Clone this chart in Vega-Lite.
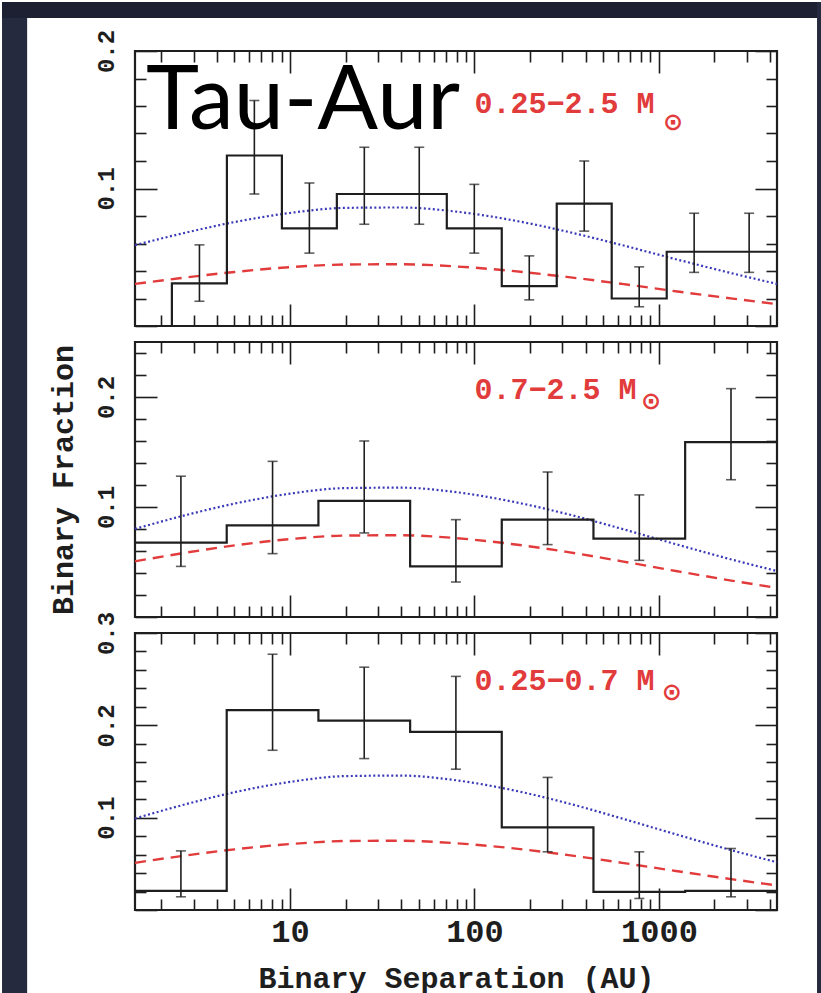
{
  "$schema": "https://vega.github.io/schema/vega-lite/v6.json",
  "padding": 0,
  "background": "white",
  "bounds": "flush",
  "spacing": 16,
  "config": {
    "font": "Liberation Mono",
    "view": {"stroke": "#1e1e1e", "strokeWidth": 2.2},
    "axis": {"zindex": 1, "domain": false, "grid": false, "tickColor": "#1e1e1e", "tickWidth": 1.6, "labelColor": "#1e1e1e", "titleColor": "#1e1e1e", "labelFont": "Liberation Mono", "titleFont": "Liberation Mono", "titleFontWeight": "bold", "labelFontWeight": "bold", "labelOverlap": false, "labelFlush": false}
  },
  "datasets": {
    "hist": [
      {"p": 1, "i": 0, "a": 2.29, "f": 0},
      {"p": 1, "i": 1, "a": 2.29, "f": 0.031},
      {"p": 1, "i": 2, "a": 4.55, "f": 0.124},
      {"p": 1, "i": 3, "a": 9.04, "f": 0.071},
      {"p": 1, "i": 4, "a": 17.95, "f": 0.096},
      {"p": 1, "i": 5, "a": 35.6, "f": 0.096},
      {"p": 1, "i": 6, "a": 70.8, "f": 0.071},
      {"p": 1, "i": 7, "a": 140.6, "f": 0.029},
      {"p": 1, "i": 8, "a": 279.3, "f": 0.089},
      {"p": 1, "i": 9, "a": 554.6, "f": 0.020},
      {"p": 1, "i": 10, "a": 1102, "f": 0.054},
      {"p": 1, "i": 11, "a": 2188, "f": 0.054},
      {"p": 1, "i": 12, "a": 4365, "f": 0.054},
      {"p": 2, "i": 0, "a": 1.445, "f": 0.0676},
      {"p": 2, "i": 1, "a": 4.54, "f": 0.0833},
      {"p": 2, "i": 2, "a": 14.26, "f": 0.1055},
      {"p": 2, "i": 3, "a": 44.8, "f": 0.046},
      {"p": 2, "i": 4, "a": 140.6, "f": 0.0885},
      {"p": 2, "i": 5, "a": 441.6, "f": 0.0712},
      {"p": 2, "i": 6, "a": 1387, "f": 0.159},
      {"p": 2, "i": 7, "a": 4365, "f": 0.159},
      {"p": 3, "i": 0, "a": 1.445, "f": 0.0208},
      {"p": 3, "i": 1, "a": 4.54, "f": 0.2165},
      {"p": 3, "i": 2, "a": 14.26, "f": 0.205},
      {"p": 3, "i": 3, "a": 44.8, "f": 0.193},
      {"p": 3, "i": 4, "a": 140.6, "f": 0.0894},
      {"p": 3, "i": 5, "a": 441.6, "f": 0.0197},
      {"p": 3, "i": 6, "a": 1387, "f": 0.0208},
      {"p": 3, "i": 7, "a": 4365, "f": 0.0208}
    ],
    "err": [
      {"p": 1, "a": 3.23, "lo": 0.018, "hi": 0.059},
      {"p": 1, "a": 6.41, "lo": 0.096, "hi": 0.164},
      {"p": 1, "a": 12.74, "lo": 0.053, "hi": 0.104},
      {"p": 1, "a": 25.29, "lo": 0.074, "hi": 0.130},
      {"p": 1, "a": 50.2, "lo": 0.074, "hi": 0.130},
      {"p": 1, "a": 99.8, "lo": 0.053, "hi": 0.103},
      {"p": 1, "a": 198.2, "lo": 0.019, "hi": 0.051},
      {"p": 1, "a": 393.6, "lo": 0.069, "hi": 0.120},
      {"p": 1, "a": 781.6, "lo": 0.014, "hi": 0.043},
      {"p": 1, "a": 1552, "lo": 0.039, "hi": 0.082},
      {"p": 1, "a": 3083, "lo": 0.039, "hi": 0.082},
      {"p": 2, "a": 2.563, "lo": 0.046, "hi": 0.128},
      {"p": 2, "a": 8.046, "lo": 0.0576, "hi": 0.1415},
      {"p": 2, "a": 25.26, "lo": 0.0764, "hi": 0.160},
      {"p": 2, "a": 79.33, "lo": 0.0318, "hi": 0.0885},
      {"p": 2, "a": 249.2, "lo": 0.0658, "hi": 0.1318},
      {"p": 2, "a": 782.6, "lo": 0.0515, "hi": 0.111},
      {"p": 2, "a": 2458, "lo": 0.1248, "hi": 0.2076},
      {"p": 3, "a": 2.563, "lo": 0.0143, "hi": 0.064},
      {"p": 3, "a": 8.046, "lo": 0.173, "hi": 0.277},
      {"p": 3, "a": 25.26, "lo": 0.164, "hi": 0.263},
      {"p": 3, "a": 79.33, "lo": 0.1525, "hi": 0.253},
      {"p": 3, "a": 249.2, "lo": 0.063, "hi": 0.1436},
      {"p": 3, "a": 782.6, "lo": 0.0125, "hi": 0.063},
      {"p": 3, "a": 2458, "lo": 0.0143, "hi": 0.0666}
    ],
    "model": [
      {"p": 1, "a": 1.445, "blue": 0.0588, "red": 0.0306},
      {"p": 1, "a": 2.512, "blue": 0.0668, "red": 0.0347},
      {"p": 1, "a": 5.012, "blue": 0.0756, "red": 0.0393},
      {"p": 1, "a": 10, "blue": 0.0822, "red": 0.0428},
      {"p": 1, "a": 19.95, "blue": 0.0859, "red": 0.0447},
      {"p": 1, "a": 39.81, "blue": 0.0862, "red": 0.0449},
      {"p": 1, "a": 79.43, "blue": 0.0832, "red": 0.0433},
      {"p": 1, "a": 158.5, "blue": 0.0771, "red": 0.0401},
      {"p": 1, "a": 316.2, "blue": 0.0687, "red": 0.0357},
      {"p": 1, "a": 631, "blue": 0.0588, "red": 0.0306},
      {"p": 1, "a": 1259, "blue": 0.0483, "red": 0.0251},
      {"p": 1, "a": 2512, "blue": 0.0382, "red": 0.0199},
      {"p": 1, "a": 4365, "blue": 0.0306, "red": 0.0159},
      {"p": 2, "a": 1.445, "blue": 0.0801, "red": 0.0506},
      {"p": 2, "a": 2.512, "blue": 0.0911, "red": 0.0575},
      {"p": 2, "a": 5.012, "blue": 0.1031, "red": 0.0651},
      {"p": 2, "a": 10, "blue": 0.1121, "red": 0.0708},
      {"p": 2, "a": 19.95, "blue": 0.1172, "red": 0.0740},
      {"p": 2, "a": 39.81, "blue": 0.1176, "red": 0.0743},
      {"p": 2, "a": 79.43, "blue": 0.1135, "red": 0.0717},
      {"p": 2, "a": 158.5, "blue": 0.1051, "red": 0.0664},
      {"p": 2, "a": 316.2, "blue": 0.0937, "red": 0.0592},
      {"p": 2, "a": 631, "blue": 0.0801, "red": 0.0506},
      {"p": 2, "a": 1259, "blue": 0.0658, "red": 0.0416},
      {"p": 2, "a": 2512, "blue": 0.0520, "red": 0.0329},
      {"p": 2, "a": 4365, "blue": 0.0418, "red": 0.0264},
      {"p": 3, "a": 1.445, "blue": 0.0991, "red": 0.0511},
      {"p": 3, "a": 2.512, "blue": 0.1127, "red": 0.0581},
      {"p": 3, "a": 5.012, "blue": 0.1276, "red": 0.0657},
      {"p": 3, "a": 10, "blue": 0.1387, "red": 0.0714},
      {"p": 3, "a": 19.95, "blue": 0.1450, "red": 0.0747},
      {"p": 3, "a": 39.81, "blue": 0.1456, "red": 0.0750},
      {"p": 3, "a": 79.43, "blue": 0.1405, "red": 0.0723},
      {"p": 3, "a": 158.5, "blue": 0.1301, "red": 0.0670},
      {"p": 3, "a": 316.2, "blue": 0.1159, "red": 0.0597},
      {"p": 3, "a": 631, "blue": 0.0991, "red": 0.0511},
      {"p": 3, "a": 1259, "blue": 0.0815, "red": 0.0420},
      {"p": 3, "a": 2512, "blue": 0.0644, "red": 0.0332},
      {"p": 3, "a": 4365, "blue": 0.0517, "red": 0.0266}
    ],
    "ann": [
      {"p": 1, "a": 100, "f": 0.155, "text": "0.25−2.5 M"},
      {"p": 2, "a": 100, "f": 0.198, "text": "0.7−2.5 M"},
      {"p": 3, "a": 100, "f": 0.238, "text": "0.25−0.7 M"}
    ],
    "sun": [
      {"p": 1, "a": 1191, "f": 0.148, "text": "⊙"},
      {"p": 2, "a": 906, "f": 0.1955, "text": "⊙"},
      {"p": 3, "a": 1175, "f": 0.2346, "text": "⊙"}
    ],
    "label": [
      {"a": 1.66, "f": 0.1436, "text": "Tau-Aur"}
    ]
  },
  "vconcat": [
    {
      "width": 642, "height": 275,
      "resolve": {"axis": {"x": "independent", "y": "independent"}},
      "layer": [
        {
          "data": {"name": "model"}, "transform": [{"filter": "datum.p == 1"}],
          "mark": {"type": "line", "color": "#3a3ab8", "strokeWidth": 2.2, "strokeDash": [2, 2.5], "interpolate": "monotone"},
          "encoding": {
            "x": {"field": "a", "type": "quantitative", "scale": {"type": "log", "domain": [1.445, 4365], "nice": false}, "axis": {"orient": "bottom", "values": [2,3,4,5,6,7,8,9,20,30,40,50,60,70,80,90,200,300,400,500,600,700,800,900,2000,3000,4000], "tickSize": -11, "labels": false, "title": null}},
            "y": {"field": "blue", "type": "quantitative", "scale": {"domain": [0, 0.2], "nice": false, "zero": false}, "axis": {"orient": "left", "values": [0.02,0.04,0.06,0.08,0.12,0.14,0.16,0.18], "tickSize": -11, "labels": false, "title": null}}
          }
        },
        {
          "data": {"name": "model"}, "transform": [{"filter": "datum.p == 1"}],
          "mark": {"type": "line", "color": "#e23b3b", "strokeWidth": 2.4, "strokeDash": [11, 7], "interpolate": "monotone"},
          "encoding": {
            "x": {"field": "a", "type": "quantitative", "scale": {"type": "log", "domain": [1.445, 4365], "nice": false}, "axis": {"orient": "top", "values": [10, 100, 1000], "tickSize": -22, "labels": false, "title": null}},
            "y": {"field": "red", "type": "quantitative", "scale": {"domain": [0, 0.2], "nice": false, "zero": false}, "axis": {"orient": "right", "values": [0, 0.1, 0.2], "tickSize": -22, "labels": false, "title": null}}
          }
        },
        {
          "data": {"name": "hist"}, "transform": [{"filter": "datum.p == 1"}],
          "mark": {"type": "line", "color": "#1e1e1e", "strokeWidth": 2.2, "interpolate": "step-after"},
          "encoding": {
            "order": {"field": "i", "type": "quantitative"},
            "x": {"field": "a", "type": "quantitative", "scale": {"type": "log", "domain": [1.445, 4365], "nice": false}, "axis": {"orient": "bottom", "values": [10, 100, 1000], "tickSize": -22, "labels": false, "title": null}},
            "y": {"field": "f", "type": "quantitative", "scale": {"domain": [0, 0.2], "nice": false, "zero": false}, "axis": {"orient": "left", "values": [0, 0.1, 0.2], "tickSize": -22, "format": ".1f", "labelExpr": "datum.value == 0 ? '' : datum.label", "labelAngle": -90, "labelAlign": "center", "labelBaseline": "bottom", "labelFontSize": 24, "labelPadding": 39, "title": null}}
          }
        },
        {
          "data": {"name": "err"}, "transform": [{"filter": "datum.p == 1"}],
          "mark": {"type": "rule", "color": "#1e1e1e", "strokeWidth": 1.6},
          "encoding": {
            "x": {"field": "a", "type": "quantitative", "scale": {"type": "log", "domain": [1.445, 4365], "nice": false}, "axis": {"orient": "top", "values": [2,3,4,5,6,7,8,9,20,30,40,50,60,70,80,90,200,300,400,500,600,700,800,900,2000,3000,4000], "tickSize": -11, "labels": false, "title": null}},
            "y": {"field": "lo", "type": "quantitative", "scale": {"domain": [0, 0.2], "nice": false, "zero": false}, "axis": {"orient": "right", "values": [0.02,0.04,0.06,0.08,0.12,0.14,0.16,0.18], "tickSize": -11, "labels": false, "title": null}},
            "y2": {"field": "hi"}
          }
        },
        {
          "data": {"name": "err"}, "transform": [{"filter": "datum.p == 1"}],
          "mark": {"type": "tick", "orient": "horizontal", "color": "#1e1e1e", "size": 10, "thickness": 1.6},
          "encoding": {
            "x": {"field": "a", "type": "quantitative", "scale": {"type": "log", "domain": [1.445, 4365], "nice": false}, "axis": null},
            "y": {"field": "lo", "type": "quantitative", "scale": {"domain": [0, 0.2], "nice": false, "zero": false}, "axis": null}
          }
        },
        {
          "data": {"name": "err"}, "transform": [{"filter": "datum.p == 1"}],
          "mark": {"type": "tick", "orient": "horizontal", "color": "#1e1e1e", "size": 10, "thickness": 1.6},
          "encoding": {
            "x": {"field": "a", "type": "quantitative", "scale": {"type": "log", "domain": [1.445, 4365], "nice": false}, "axis": null},
            "y": {"field": "hi", "type": "quantitative", "scale": {"domain": [0, 0.2], "nice": false, "zero": false}, "axis": null}
          }
        },
        {
          "data": {"name": "ann"}, "transform": [{"filter": "datum.p == 1"}],
          "mark": {"type": "text", "color": "#e23b3b", "fontSize": 30, "fontWeight": "bold", "align": "left", "baseline": "alphabetic", "font": "Liberation Mono"},
          "encoding": {
            "x": {"field": "a", "type": "quantitative", "scale": {"type": "log", "domain": [1.445, 4365], "nice": false}, "axis": null},
            "y": {"field": "f", "type": "quantitative", "scale": {"domain": [0, 0.2], "nice": false, "zero": false}, "axis": null},
            "text": {"field": "text"}
          }
        },
        {
          "data": {"name": "sun"}, "transform": [{"filter": "datum.p == 1"}],
          "mark": {"type": "text", "color": "#e23b3b", "fontSize": 24, "fontWeight": "bold", "align": "center", "baseline": "middle", "font": "DejaVu Sans"},
          "encoding": {
            "x": {"field": "a", "type": "quantitative", "scale": {"type": "log", "domain": [1.445, 4365], "nice": false}, "axis": null},
            "y": {"field": "f", "type": "quantitative", "scale": {"domain": [0, 0.2], "nice": false, "zero": false}, "axis": null},
            "text": {"field": "text"}
          }
        },
        {
          "data": {"name": "label"},
          "mark": {"type": "text", "color": "black", "fontSize": 90, "align": "left", "baseline": "alphabetic", "font": "Lato"},
          "encoding": {
            "x": {"field": "a", "type": "quantitative", "scale": {"type": "log", "domain": [1.445, 4365], "nice": false}, "axis": null},
            "y": {"field": "f", "type": "quantitative", "scale": {"domain": [0, 0.2], "nice": false, "zero": false}, "axis": null},
            "text": {"field": "text"}
          }
        }
      ]
    },
    {
      "width": 642, "height": 275,
      "resolve": {"axis": {"x": "independent", "y": "independent"}},
      "layer": [
        {
          "data": {"name": "model"}, "transform": [{"filter": "datum.p == 2"}],
          "mark": {"type": "line", "color": "#3a3ab8", "strokeWidth": 2.2, "strokeDash": [2, 2.5], "interpolate": "monotone"},
          "encoding": {
            "x": {"field": "a", "type": "quantitative", "scale": {"type": "log", "domain": [1.445, 4365], "nice": false}, "axis": {"orient": "bottom", "values": [2,3,4,5,6,7,8,9,20,30,40,50,60,70,80,90,200,300,400,500,600,700,800,900,2000,3000,4000], "tickSize": -11, "labels": false, "title": null}},
            "y": {"field": "blue", "type": "quantitative", "scale": {"domain": [0, 0.25], "nice": false, "zero": false}, "axis": {"orient": "left", "values": [0.02,0.04,0.06,0.08,0.12,0.14,0.16,0.18,0.22,0.24], "tickSize": -11, "labels": false, "title": null}}
          }
        },
        {
          "data": {"name": "model"}, "transform": [{"filter": "datum.p == 2"}],
          "mark": {"type": "line", "color": "#e23b3b", "strokeWidth": 2.4, "strokeDash": [11, 7], "interpolate": "monotone"},
          "encoding": {
            "x": {"field": "a", "type": "quantitative", "scale": {"type": "log", "domain": [1.445, 4365], "nice": false}, "axis": {"orient": "top", "values": [10, 100, 1000], "tickSize": -22, "labels": false, "title": null}},
            "y": {"field": "red", "type": "quantitative", "scale": {"domain": [0, 0.25], "nice": false, "zero": false}, "axis": {"orient": "right", "values": [0, 0.1, 0.2], "tickSize": -22, "labels": false, "title": null}}
          }
        },
        {
          "data": {"name": "hist"}, "transform": [{"filter": "datum.p == 2"}],
          "mark": {"type": "line", "color": "#1e1e1e", "strokeWidth": 2.2, "interpolate": "step-after"},
          "encoding": {
            "order": {"field": "i", "type": "quantitative"},
            "x": {"field": "a", "type": "quantitative", "scale": {"type": "log", "domain": [1.445, 4365], "nice": false}, "axis": {"orient": "bottom", "values": [10, 100, 1000], "tickSize": -22, "labels": false, "title": null}},
            "y": {"field": "f", "type": "quantitative", "scale": {"domain": [0, 0.25], "nice": false, "zero": false}, "axis": {"orient": "left", "values": [0, 0.1, 0.2], "tickSize": -22, "format": ".1f", "labelExpr": "datum.value == 0 ? '' : datum.label", "labelAngle": -90, "labelAlign": "center", "labelBaseline": "bottom", "labelFontSize": 24, "labelPadding": 39, "title": "Binary Fraction", "titleFontSize": 30, "titlePadding": 16}}
          }
        },
        {
          "data": {"name": "err"}, "transform": [{"filter": "datum.p == 2"}],
          "mark": {"type": "rule", "color": "#1e1e1e", "strokeWidth": 1.6},
          "encoding": {
            "x": {"field": "a", "type": "quantitative", "scale": {"type": "log", "domain": [1.445, 4365], "nice": false}, "axis": {"orient": "top", "values": [2,3,4,5,6,7,8,9,20,30,40,50,60,70,80,90,200,300,400,500,600,700,800,900,2000,3000,4000], "tickSize": -11, "labels": false, "title": null}},
            "y": {"field": "lo", "type": "quantitative", "scale": {"domain": [0, 0.25], "nice": false, "zero": false}, "axis": {"orient": "right", "values": [0.02,0.04,0.06,0.08,0.12,0.14,0.16,0.18,0.22,0.24], "tickSize": -11, "labels": false, "title": null}},
            "y2": {"field": "hi"}
          }
        },
        {
          "data": {"name": "err"}, "transform": [{"filter": "datum.p == 2"}],
          "mark": {"type": "tick", "orient": "horizontal", "color": "#1e1e1e", "size": 10, "thickness": 1.6},
          "encoding": {
            "x": {"field": "a", "type": "quantitative", "scale": {"type": "log", "domain": [1.445, 4365], "nice": false}, "axis": null},
            "y": {"field": "lo", "type": "quantitative", "scale": {"domain": [0, 0.25], "nice": false, "zero": false}, "axis": null}
          }
        },
        {
          "data": {"name": "err"}, "transform": [{"filter": "datum.p == 2"}],
          "mark": {"type": "tick", "orient": "horizontal", "color": "#1e1e1e", "size": 10, "thickness": 1.6},
          "encoding": {
            "x": {"field": "a", "type": "quantitative", "scale": {"type": "log", "domain": [1.445, 4365], "nice": false}, "axis": null},
            "y": {"field": "hi", "type": "quantitative", "scale": {"domain": [0, 0.25], "nice": false, "zero": false}, "axis": null}
          }
        },
        {
          "data": {"name": "ann"}, "transform": [{"filter": "datum.p == 2"}],
          "mark": {"type": "text", "color": "#e23b3b", "fontSize": 30, "fontWeight": "bold", "align": "left", "baseline": "alphabetic", "font": "Liberation Mono"},
          "encoding": {
            "x": {"field": "a", "type": "quantitative", "scale": {"type": "log", "domain": [1.445, 4365], "nice": false}, "axis": null},
            "y": {"field": "f", "type": "quantitative", "scale": {"domain": [0, 0.25], "nice": false, "zero": false}, "axis": null},
            "text": {"field": "text"}
          }
        },
        {
          "data": {"name": "sun"}, "transform": [{"filter": "datum.p == 2"}],
          "mark": {"type": "text", "color": "#e23b3b", "fontSize": 24, "fontWeight": "bold", "align": "center", "baseline": "middle", "font": "DejaVu Sans"},
          "encoding": {
            "x": {"field": "a", "type": "quantitative", "scale": {"type": "log", "domain": [1.445, 4365], "nice": false}, "axis": null},
            "y": {"field": "f", "type": "quantitative", "scale": {"domain": [0, 0.25], "nice": false, "zero": false}, "axis": null},
            "text": {"field": "text"}
          }
        }
      ]
    },
    {
      "width": 642, "height": 277,
      "resolve": {"axis": {"x": "independent", "y": "independent"}},
      "layer": [
        {
          "data": {"name": "model"}, "transform": [{"filter": "datum.p == 3"}],
          "mark": {"type": "line", "color": "#3a3ab8", "strokeWidth": 2.2, "strokeDash": [2, 2.5], "interpolate": "monotone"},
          "encoding": {
            "x": {"field": "a", "type": "quantitative", "scale": {"type": "log", "domain": [1.445, 4365], "nice": false}, "axis": {"orient": "bottom", "values": [2,3,4,5,6,7,8,9,20,30,40,50,60,70,80,90,200,300,400,500,600,700,800,900,2000,3000,4000], "tickSize": -11, "labels": false, "title": null}},
            "y": {"field": "blue", "type": "quantitative", "scale": {"domain": [0, 0.3], "nice": false, "zero": false}, "axis": {"orient": "left", "values": [0.02,0.04,0.06,0.08,0.12,0.14,0.16,0.18,0.22,0.24,0.26,0.28], "tickSize": -11, "labels": false, "title": null}}
          }
        },
        {
          "data": {"name": "model"}, "transform": [{"filter": "datum.p == 3"}],
          "mark": {"type": "line", "color": "#e23b3b", "strokeWidth": 2.4, "strokeDash": [11, 7], "interpolate": "monotone"},
          "encoding": {
            "x": {"field": "a", "type": "quantitative", "scale": {"type": "log", "domain": [1.445, 4365], "nice": false}, "axis": {"orient": "top", "values": [10, 100, 1000], "tickSize": -22, "labels": false, "title": null}},
            "y": {"field": "red", "type": "quantitative", "scale": {"domain": [0, 0.3], "nice": false, "zero": false}, "axis": {"orient": "right", "values": [0, 0.1, 0.2, 0.3], "tickSize": -22, "labels": false, "title": null}}
          }
        },
        {
          "data": {"name": "hist"}, "transform": [{"filter": "datum.p == 3"}],
          "mark": {"type": "line", "color": "#1e1e1e", "strokeWidth": 2.2, "interpolate": "step-after"},
          "encoding": {
            "order": {"field": "i", "type": "quantitative"},
            "x": {"field": "a", "type": "quantitative", "scale": {"type": "log", "domain": [1.445, 4365], "nice": false}, "axis": {"orient": "bottom", "values": [10, 100, 1000], "tickSize": -22, "format": "d", "labelFontSize": 32, "labelPadding": 28, "title": "Binary Separation (AU)", "titleFontSize": 30, "titlePadding": 16}},
            "y": {"field": "f", "type": "quantitative", "scale": {"domain": [0, 0.3], "nice": false, "zero": false}, "axis": {"orient": "left", "values": [0, 0.1, 0.2, 0.3], "tickSize": -22, "format": ".1f", "labelExpr": "datum.value == 0 ? '' : datum.label", "labelAngle": -90, "labelAlign": "center", "labelBaseline": "bottom", "labelFontSize": 24, "labelPadding": 39, "title": null}}
          }
        },
        {
          "data": {"name": "err"}, "transform": [{"filter": "datum.p == 3"}],
          "mark": {"type": "rule", "color": "#1e1e1e", "strokeWidth": 1.6},
          "encoding": {
            "x": {"field": "a", "type": "quantitative", "scale": {"type": "log", "domain": [1.445, 4365], "nice": false}, "axis": {"orient": "top", "values": [2,3,4,5,6,7,8,9,20,30,40,50,60,70,80,90,200,300,400,500,600,700,800,900,2000,3000,4000], "tickSize": -11, "labels": false, "title": null}},
            "y": {"field": "lo", "type": "quantitative", "scale": {"domain": [0, 0.3], "nice": false, "zero": false}, "axis": {"orient": "right", "values": [0.02,0.04,0.06,0.08,0.12,0.14,0.16,0.18,0.22,0.24,0.26,0.28], "tickSize": -11, "labels": false, "title": null}},
            "y2": {"field": "hi"}
          }
        },
        {
          "data": {"name": "err"}, "transform": [{"filter": "datum.p == 3"}],
          "mark": {"type": "tick", "orient": "horizontal", "color": "#1e1e1e", "size": 10, "thickness": 1.6},
          "encoding": {
            "x": {"field": "a", "type": "quantitative", "scale": {"type": "log", "domain": [1.445, 4365], "nice": false}, "axis": null},
            "y": {"field": "lo", "type": "quantitative", "scale": {"domain": [0, 0.3], "nice": false, "zero": false}, "axis": null}
          }
        },
        {
          "data": {"name": "err"}, "transform": [{"filter": "datum.p == 3"}],
          "mark": {"type": "tick", "orient": "horizontal", "color": "#1e1e1e", "size": 10, "thickness": 1.6},
          "encoding": {
            "x": {"field": "a", "type": "quantitative", "scale": {"type": "log", "domain": [1.445, 4365], "nice": false}, "axis": null},
            "y": {"field": "hi", "type": "quantitative", "scale": {"domain": [0, 0.3], "nice": false, "zero": false}, "axis": null}
          }
        },
        {
          "data": {"name": "ann"}, "transform": [{"filter": "datum.p == 3"}],
          "mark": {"type": "text", "color": "#e23b3b", "fontSize": 30, "fontWeight": "bold", "align": "left", "baseline": "alphabetic", "font": "Liberation Mono"},
          "encoding": {
            "x": {"field": "a", "type": "quantitative", "scale": {"type": "log", "domain": [1.445, 4365], "nice": false}, "axis": null},
            "y": {"field": "f", "type": "quantitative", "scale": {"domain": [0, 0.3], "nice": false, "zero": false}, "axis": null},
            "text": {"field": "text"}
          }
        },
        {
          "data": {"name": "sun"}, "transform": [{"filter": "datum.p == 3"}],
          "mark": {"type": "text", "color": "#e23b3b", "fontSize": 24, "fontWeight": "bold", "align": "center", "baseline": "middle", "font": "DejaVu Sans"},
          "encoding": {
            "x": {"field": "a", "type": "quantitative", "scale": {"type": "log", "domain": [1.445, 4365], "nice": false}, "axis": null},
            "y": {"field": "f", "type": "quantitative", "scale": {"domain": [0, 0.3], "nice": false, "zero": false}, "axis": null},
            "text": {"field": "text"}
          }
        },
        {
          "data": {"values": [{}]},
          "mark": {"type": "rect", "fill": "#262a3e", "clip": false},
          "encoding": {
            "x": {"datum": 0.2748, "type": "quantitative", "scale": {"type": "log", "domain": [1.445, 4365], "nice": false}, "axis": null},
            "x2": {"datum": 0.376},
            "y": {"datum": 0.9834, "type": "quantitative", "scale": {"domain": [0, 0.3], "nice": false, "zero": false}, "axis": null},
            "y2": {"datum": -0.0996}
          }
        },
        {
          "data": {"values": [{}]},
          "mark": {"type": "rect", "fill": "#1d2032", "clip": false},
          "encoding": {
            "x": {"datum": 0.2748, "type": "quantitative", "scale": {"type": "log", "domain": [1.445, 4365], "nice": false}, "axis": null},
            "x2": {"datum": 7762},
            "y": {"datum": 0.9834, "type": "quantitative", "scale": {"domain": [0, 0.3], "nice": false, "zero": false}, "axis": null},
            "y2": {"datum": 0.966}
          }
        },
        {
          "data": {"values": [{}]},
          "mark": {"type": "rect", "fill": "#262a3e", "clip": false},
          "encoding": {
            "x": {"datum": 7194, "type": "quantitative", "scale": {"type": "log", "domain": [1.445, 4365], "nice": false}, "axis": null},
            "x2": {"datum": 7762},
            "y": {"datum": 0.9834, "type": "quantitative", "scale": {"domain": [0, 0.3], "nice": false, "zero": false}, "axis": null},
            "y2": {"datum": -0.0996}
          }
        }
      ]
    }
  ]
}
